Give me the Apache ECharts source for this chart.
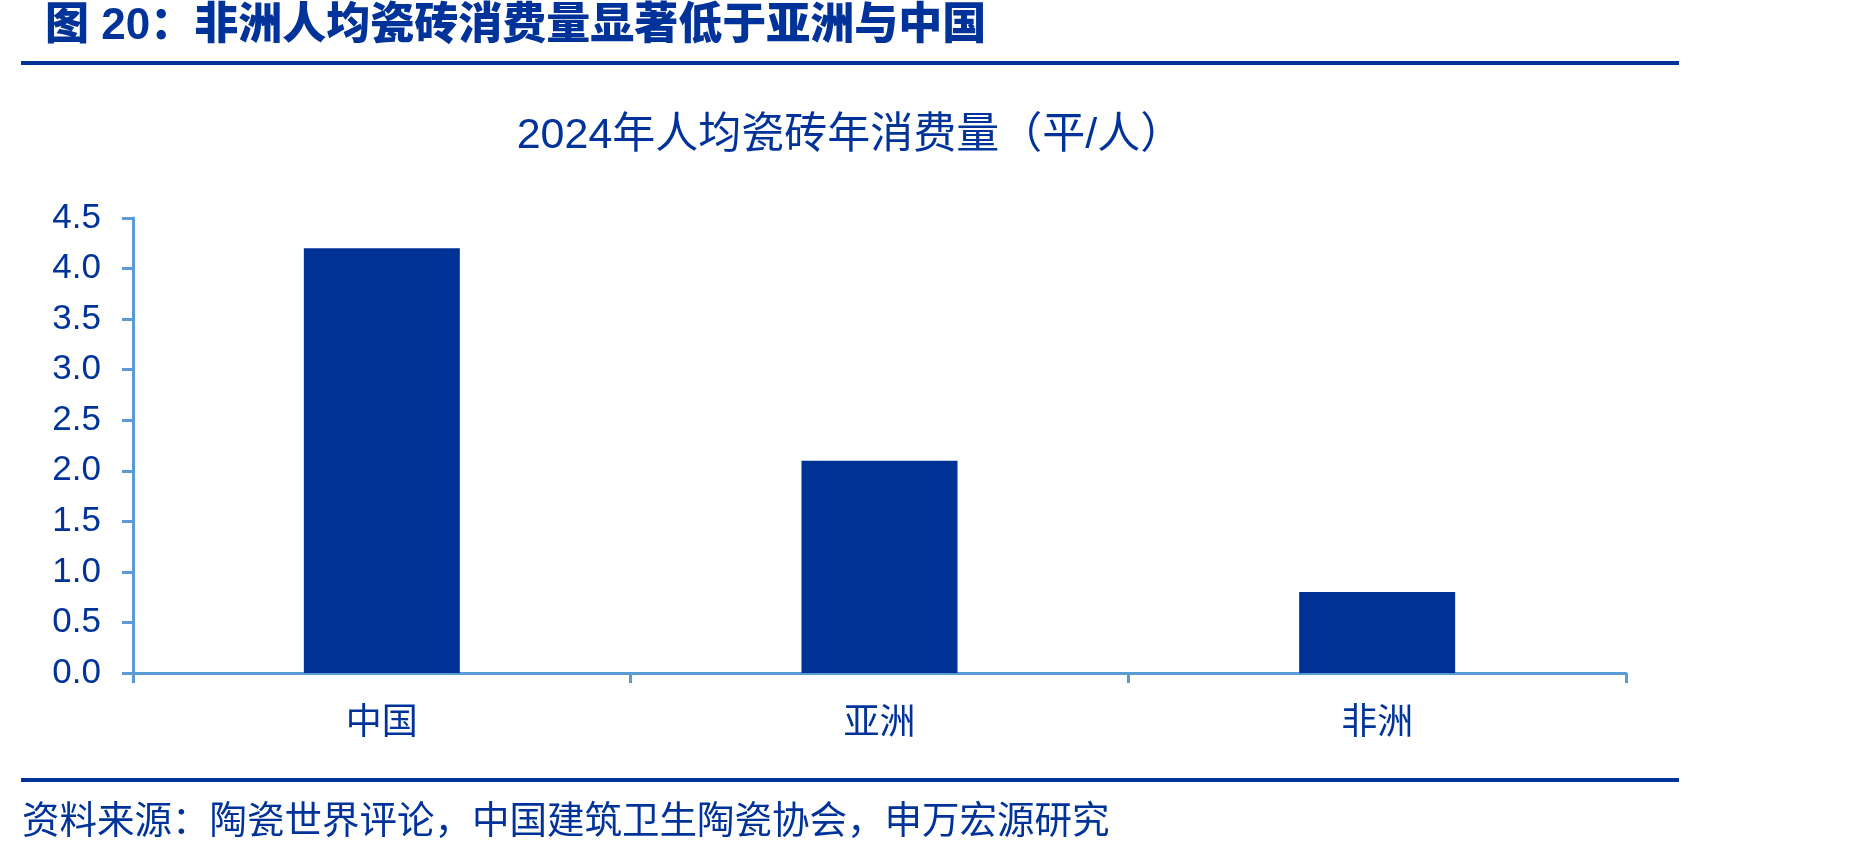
<!DOCTYPE html>
<html>
<head>
<meta charset="utf-8">
<script src="https://cdn.jsdelivr.net/npm/echarts@6/dist/echarts.min.js"></script>
<style>
  html, body { margin: 0; padding: 0; background: #fff; }
  #chart { width: 1849px; height: 857px; }
</style>
</head>
<body>
<div id="chart"></div>
<script>
// 数据
const categories = ['中国', '亚洲', '非洲'];
const perCapita = [4.2, 2.1, 0.8];
const yTicks = [0, 0.5, 1.0, 1.5, 2.0, 2.5, 3.0, 3.5, 4.0, 4.5];

const blue = '#003399';
const barBlue = '#003296';
const axisBlue = '#5b9bd5';
const cjk = '"Liberation Sans", Arial, "Noto Sans CJK SC", sans-serif';

const myChart = echarts.init(document.getElementById('chart'));

myChart.setOption({
  backgroundColor: '#fff',
  animation: false,
  graphic: [
    {
      type: 'text', x: 45, y: 27,
      style: { text: '图 20：非洲人均瓷砖消费量显著低于亚洲与中国', font: '900 44px ' + cjk, fill: blue, verticalAlign: 'middle' }
    },
    { type: 'rect', shape: { x: 21, y: 61, width: 1658, height: 4 }, style: { fill: blue } },
    {
      type: 'text', x: 850, y: 136,
      style: { text: '2024年人均瓷砖年消费量（平/人）', font: '43px ' + cjk, fill: blue, align: 'center', verticalAlign: 'middle' }
    },
    { type: 'rect', shape: { x: 21, y: 778, width: 1658, height: 4 }, style: { fill: blue } },
    {
      type: 'text', x: 22, y: 823,
      style: { text: '资料来源：陶瓷世界评论，中国建筑卫生陶瓷协会，申万宏源研究', font: '37.5px ' + cjk, fill: blue, verticalAlign: 'middle' }
    }
  ],
  grid: { left: 133, right: 223, top: 218, bottom: 184, containLabel: false },
  xAxis: {
    type: 'category',
    data: categories,
    axisLine: { lineStyle: { color: axisBlue, width: 3 } },
    axisTick: { show: true, length: 10, lineStyle: { color: axisBlue, width: 3 } },
    axisLabel: { color: blue, fontSize: 36, fontFamily: cjk, margin: 33 }
  },
  yAxis: {
    type: 'value',
    min: yTicks[0],
    max: yTicks[yTicks.length - 1],
    interval: 0.5,
    splitLine: { show: false },
    axisLine: { show: true, lineStyle: { color: axisBlue, width: 3 } },
    axisTick: { show: true, length: 11, lineStyle: { color: axisBlue, width: 3 } },
    axisLabel: {
      color: blue, fontSize: 35, fontFamily: cjk, margin: 32,
      formatter: v => v.toFixed(1)
    }
  },
  series: [
    {
      type: 'bar',
      data: perCapita,
      barWidth: 156,
      itemStyle: { color: barBlue }
    }
  ]
});
</script>
</body>
</html>
